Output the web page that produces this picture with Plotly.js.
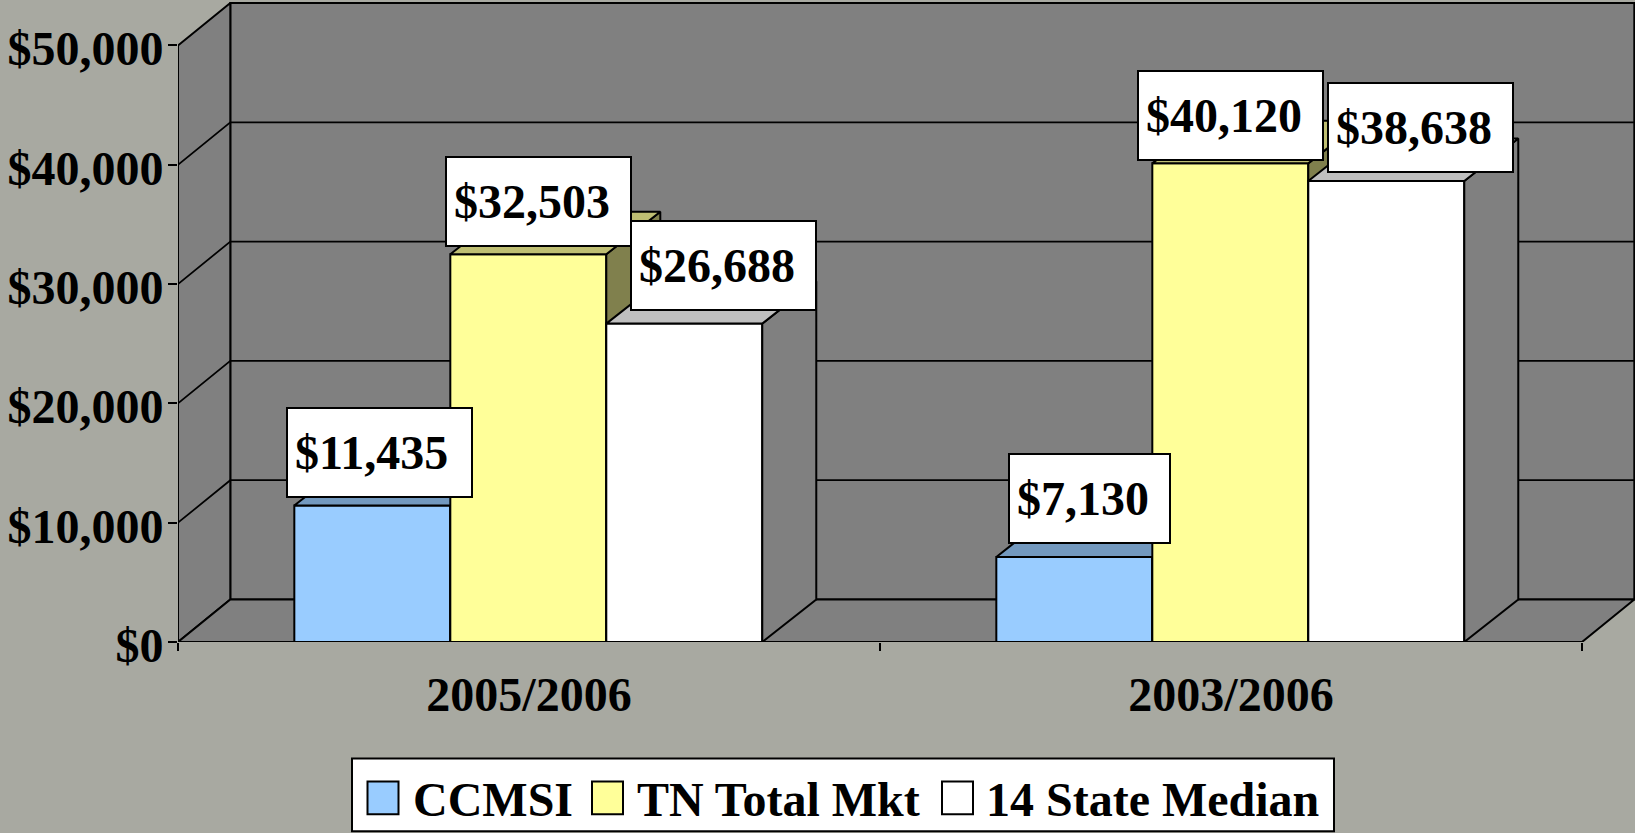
<!DOCTYPE html>
<html>
<head>
<meta charset="utf-8">
<script src="https://cdn.plot.ly/plotly-3.0.1.min.js"></script>
<style>html,body{margin:0;padding:0;background:#A8A9A1;overflow:hidden}#chart{width:1635px;height:833px}</style>
</head>
<body>
<div id="chart"></div>
<script>
// ---- data ----
const categories = ['2005/2006', '2003/2006'];
const seriesNames = ['CCMSI', 'TN Total Mkt', '14 State Median'];
const ccmsi = [11435, 7130];
const tnTotalMkt = [32503, 40120];
const stateMedian = [26688, 38638];
const yTicks = [0, 10000, 20000, 30000, 40000, 50000];

// ---- styles ----
const frontColors = ['#99CCFF', '#FFFF99', '#FFFFFF'];
const topColors = ['#7399BF', '#BFBF73', '#BFBFBF'];
const sideColors = ['#5C7A99', '#80804D', '#808080'];
const wallColor = '#808080';
const pageColor = '#A8A9A1';
const serif = 'Liberation Serif, Times New Roman, serif';

// ---- layout geometry ----
const W = 1635, H = 833, originX = 178, originY = 642.5;
const catPx = 702, yPxPerUnit = 597 / 50000;
const barW = 0.2222, barNudge = -0.001, depthX = 52.3 / catPx, barDepthX = 54 / catPx, depthY = 42.5 / yPxPerUnit;
const xMax = (W - originX) / catPx, yMax = originY / yPxPerUnit;
const nCats = categories.length, yTop = yTicks[yTicks.length - 1];
const allSeries = [ccmsi, tnTotalMkt, stateMedian];
const catCenters = categories.map((_, i) => i + 0.5);

const traces = [];
const nolegend = {showlegend: false, hoverinfo: 'skip', cliponaxis: false};
function poly(pts, fill, xa, ya, width) {
  traces.push(Object.assign({
    type: 'scatter', mode: 'lines', x: pts.map(p => p && p[0]), y: pts.map(p => p && p[1]),
    fill: 'toself', fillcolor: fill, line: {color: '#000', width: width || 2},
    xaxis: xa, yaxis: ya
  }, nolegend));
}
function lines(pts, width) {
  traces.push(Object.assign({
    type: 'scatter', mode: 'lines', x: pts.map(p => p && p[0]), y: pts.map(p => p && p[1]),
    line: {color: '#000', width: width}, xaxis: 'x', yaxis: 'y'
  }, nolegend));
}
// walls and floor
poly([[depthX, depthY], [nCats + depthX, depthY], [nCats + depthX, yTop + depthY], [depthX, yTop + depthY], [depthX, depthY]], wallColor, 'x', 'y');
poly([[0, 0], [depthX, depthY], [depthX, yTop + depthY], [0, yTop], [0, 0]], wallColor, 'x', 'y');
poly([[0, 0], [nCats, 0], [nCats + depthX, depthY], [depthX, depthY], [0, 0]], wallColor, 'x', 'y');
const grid = [];
yTicks.slice(1, -1).forEach(v => {
  grid.push([0, v], [depthX, v + depthY], [nCats + depthX, v + depthY], null);
});
lines(grid, 1.75);

// bars: each series on its own overlaid axes so the later bar hides the earlier one's side
allSeries.forEach((vals, s) => {
  const xa = 'x' + (s + 2), ya = 'y' + (s + 2);
  const off = (s - 1.5) * barW + barNudge;
  traces.push({
    type: 'bar', name: seriesNames[s], x: catCenters, y: vals, offset: off, width: barW,
    marker: {color: frontColors[s], line: {color: '#000', width: 2}},
    xaxis: xa, yaxis: ya, showlegend: false, cliponaxis: false,
    hovertemplate: '%{y:$,.0f}<extra>' + seriesNames[s] + '</extra>'
  });
  const top = [], side = [];
  vals.forEach((v, c) => {
    const l = catCenters[c] + off, r = l + barW;
    top.push([l, v], [r, v], [r + barDepthX, v + depthY], [l + barDepthX, v + depthY], [l, v], null);
    side.push([r, 0], [r, v], [r + barDepthX, v + depthY], [r + barDepthX, depthY], [r, 0], null);
  });
  poly(side.slice(0, -1), sideColors[s], xa, ya);
  poly(top.slice(0, -1), topColors[s], xa, ya);
});

// value labels
const labelShiftX = [[-8.5, 11.5], [-5, -15.5], [23.5, 18.5]];
const labelShiftY = [[8, 12.5], [7.5, 2], [13, 8.5]];
const labelFont = {family: serif, size: 48, color: '#000', weight: 700};
const annotations = [];
allSeries.forEach((vals, s) => vals.forEach((v, c) => {
  const text = '$' + v.toLocaleString('en-US');
  annotations.push({
    xref: 'x', yref: 'y', x: catCenters[c] + (s - 1.5) * barW + barNudge, y: v, showarrow: false,
    xanchor: 'left', yanchor: 'bottom', xshift: labelShiftX[s][c], yshift: labelShiftY[s][c],
    text: text, font: labelFont, align: 'left', valign: 'middle',
    width: text.length > 6 ? 169 : 145, height: 73,
    bgcolor: '#fff', bordercolor: '#000', borderwidth: 2, borderpad: 7
  });
}));

// legend box (drawn with paper-referenced shapes so that its swatches can be large)
const plotW = W - originX, plotH = originY;
const paperX = px => (px - originX) / plotW, paperY = py => (originY - py) / plotH;
const shapes = [{
  type: 'rect', xref: 'paper', yref: 'paper', layer: 'above',
  x0: paperX(352), x1: paperX(1334), y0: paperY(759), y1: paperY(832),
  fillcolor: '#fff', line: {color: '#000', width: 2}
}];
const swatchLeft = [367.5, 592, 942], textLeft = [411, 635, 984];
seriesNames.forEach((name, s) => {
  shapes.push({
    type: 'rect', xref: 'paper', yref: 'paper', layer: 'above',
    x0: paperX(swatchLeft[s]), x1: paperX(swatchLeft[s] + 31), y0: paperY(782), y1: paperY(815),
    fillcolor: frontColors[s], line: {color: '#000', width: 2}
  });
  annotations.push({
    xref: 'paper', yref: 'paper', x: paperX(textLeft[s]), y: paperY(800), showarrow: false,
    xanchor: 'left', yanchor: 'middle', text: name,
    font: {family: serif, size: 48, color: '#000', weight: 700}
  });
});

const hiddenX = i => ({overlaying: 'x', range: [0, xMax], visible: false, fixedrange: true, anchor: 'y' + i});
const hiddenY = i => ({overlaying: 'y', range: [0, yMax], visible: false, fixedrange: true, anchor: 'x' + i});

const layout = {
  width: W, height: H, showlegend: false, autosize: false,
  paper_bgcolor: pageColor, plot_bgcolor: pageColor,
  margin: {l: originX, r: 0, t: 0, b: H - originY, pad: 0},
  xaxis: {
    range: [0, xMax], tickmode: 'array', tickvals: catCenters, ticktext: categories, ticks: '',
    tickfont: {family: serif, size: 48, color: '#000', weight: 700}, ticklabelstandoff: 20,
    showgrid: false, zeroline: false, showline: false, fixedrange: true,
    minor: {tickmode: 'linear', tick0: 0, dtick: 1, ticks: 'outside', ticklen: 8, tickwidth: 2, tickcolor: '#000', showgrid: false}
  },
  yaxis: {
    range: [0, yMax], tickmode: 'array', tickvals: yTicks, tickformat: '$,.0f', ticks: 'outside',
    ticklen: 9, tickwidth: 2, tickcolor: '#000', ticklabelstandoff: -5, ticklabelshift: 3,
    tickfont: {family: serif, size: 48, color: '#000', weight: 700},
    showgrid: false, zeroline: false, showline: false, fixedrange: true
  },
  xaxis2: hiddenX(2), yaxis2: hiddenY(2),
  xaxis3: hiddenX(3), yaxis3: hiddenY(3),
  xaxis4: hiddenX(4), yaxis4: hiddenY(4),
  shapes: shapes, annotations: annotations
};
Plotly.newPlot('chart', traces, layout, {displayModeBar: false, staticPlot: false});
</script>
</body>
</html>
